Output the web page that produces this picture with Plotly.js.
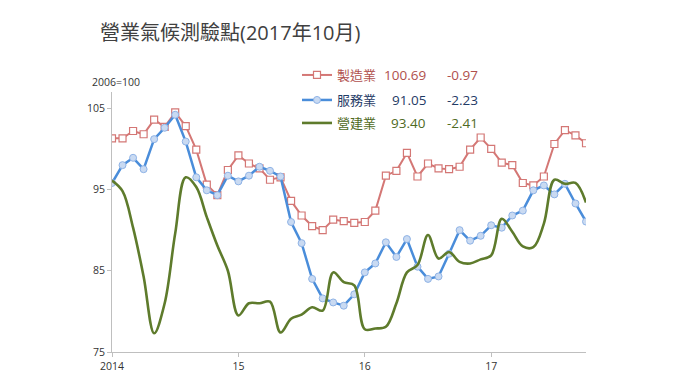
<!DOCTYPE html>
<html><head><meta charset="utf-8">
<script src="https://cdn.plot.ly/plotly-3.0.1.min.js"></script>
<style>html,body{margin:0;padding:0;background:#fff}#chart{width:680px;height:382px}</style>
</head><body><div id="chart"></div>
<script>
const months = ['2014-01','2014-02','2014-03','2014-04','2014-05','2014-06','2014-07','2014-08','2014-09','2014-10','2014-11','2014-12',
'2015-01','2015-02','2015-03','2015-04','2015-05','2015-06','2015-07','2015-08','2015-09','2015-10','2015-11','2015-12',
'2016-01','2016-02','2016-03','2016-04','2016-05','2016-06','2016-07','2016-08','2016-09','2016-10','2016-11','2016-12',
'2017-01','2017-02','2017-03','2017-04','2017-05','2017-06','2017-07','2017-08','2017-09','2017-10'];
const seriesNames = ['製造業','服務業','營建業'];
const manufacturing = [101.3,101.3,102.2,101.8,103.6,102.7,104.5,102.8,99.9,95.6,94.3,97.4,
99.2,98.2,97.6,96.2,96.5,93.6,91.8,90.5,90.0,91.3,91.1,90.9,
91.0,92.4,96.7,97.3,99.5,96.6,98.2,97.6,97.5,97.8,99.9,101.4,
100.0,98.3,98.0,95.8,95.5,96.6,100.6,102.3,101.66,100.69];
const services = [95.8,98.0,98.9,97.5,101.2,102.6,104.2,100.9,96.5,94.9,94.3,96.7,
96.0,96.7,97.8,97.3,96.6,91.0,88.4,84.0,81.6,81.1,80.7,82.1,
84.8,85.9,88.5,86.7,88.9,85.5,84.0,84.3,87.1,90.0,88.7,89.3,
90.6,90.3,91.8,92.4,94.9,95.5,94.4,95.7,93.28,91.05];
const construction = [96.1,94.8,90.3,84.3,77.3,81.0,89.6,96.5,95.3,91.6,88.1,85.0,
79.5,81.0,81.0,81.2,77.4,79.1,79.6,80.5,80.1,84.8,83.6,83.2,
77.8,77.9,78.1,81.0,84.8,85.7,89.4,86.5,87.3,86.1,85.9,86.4,
86.9,91.4,89.8,88.0,87.9,90.8,96.2,95.7,95.81,93.40];
const latestValues = ['100.69','91.05','93.40'];
const changes = ['-0.97','-2.23','-2.41'];
const tickMonths = ['2014-01','2015-01','2016-01','2017-01'];
const tickLabels = ['2014','15','16','17'];
const yTicks = [75,85,95,105];

const FONT = '"Open Sans", "Noto Sans CJK TC", sans-serif';
const lineColors = ['#D47775','#4A8DDA','#5E7B2C'];
const textColors = ['#B0504D','#1F3B66','#4F6A23'];

const traces = [
 {x: months, y: manufacturing, name: seriesNames[0], type:'scatter', mode:'lines+markers', legend:'legend',
  line:{color:lineColors[0], width:2},
  marker:{symbol:'square', size:7, color:'#ffffff', line:{color:lineColors[0], width:1.2}}},
 {x: months, y: services, name: seriesNames[1], type:'scatter', mode:'lines+markers', legend:'legend2',
  line:{color:lineColors[1], width:2.5},
  marker:{symbol:'circle', size:7, color:'#C9DAF2', line:{color:'#8FB3E6', width:1}}},
 {x: months, y: construction, name: seriesNames[2], type:'scatter', mode:'lines', legend:'legend3',
  line:{color:lineColors[2], width:2.6, shape:'spline', smoothing:1}}
];

const PT = 92, PB = 352, PH = PB - PT, PL = 112, PW = 474;
const rowY = [75, 100, 123];
function legendCfg(i){
  return {x:(297-PL)/PW, xanchor:'left', y:(PB-rowY[i])/PH, yanchor:'middle',
    bgcolor:'rgba(0,0,0,0)', font:{family:FONT, size:13, color:textColors[i]}};
}
const annotations = [
 {text:'2006=100', xref:'paper', yref:'paper', x:(90-PL)/PW, y:(PB-82)/PH, xanchor:'left', yanchor:'middle',
  showarrow:false, font:{family:FONT, size:10.5, color:'#333333'}}
];
for (let i=0;i<3;i++){
  annotations.push({text:latestValues[i], xref:'paper', yref:'paper', x:(428-PL)/PW, y:(PB-rowY[i])/PH,
    xanchor:'right', yanchor:'middle', showarrow:false, font:{family:FONT, size:13.5, color:textColors[i]}});
  annotations.push({text:changes[i], xref:'paper', yref:'paper', x:(445-PL)/PW, y:(PB-rowY[i])/PH,
    xanchor:'left', yanchor:'middle', showarrow:false, font:{family:FONT, size:13.5, color:textColors[i]}});
}

const layout = {
  width:680, height:382,
  margin:{l:PL, r:680-PL-PW, t:PT, b:382-PB, autoexpand:false},
  paper_bgcolor:'#ffffff', plot_bgcolor:'#ffffff',
  font:{family:FONT, color:'#333333'},
  title:{text:'營業氣候測驗點(2017年10月)', xref:'container', yref:'container', x:100/680, xanchor:'left',
    y:1-33/382, yanchor:'middle', font:{family:FONT, size:20, color:'#404040'}},
  xaxis:{type:'category', range:[0, months.length-1], tickmode:'array', tickvals:tickMonths, ticktext:tickLabels,
    showgrid:false, zeroline:false, showline:true, linecolor:'#BFBFBF', linewidth:1,
    ticks:'outside', ticklen:4, tickcolor:'#BFBFBF', tickfont:{family:FONT, size:10.5, color:'#333333'}},
  yaxis:{range:[75,107], tickmode:'array', tickvals:yTicks, showgrid:false, zeroline:false,
    showline:true, linecolor:'#BFBFBF', linewidth:1, ticks:'outside', ticklen:4, tickcolor:'#BFBFBF',
    tickfont:{family:FONT, size:10.5, color:'#333333'}},
  showlegend:true,
  legend:legendCfg(0), legend2:legendCfg(1), legend3:legendCfg(2),
  annotations:annotations
};
Plotly.newPlot('chart', traces, layout, {displayModeBar:false, staticPlot:true});
</script></body></html>
